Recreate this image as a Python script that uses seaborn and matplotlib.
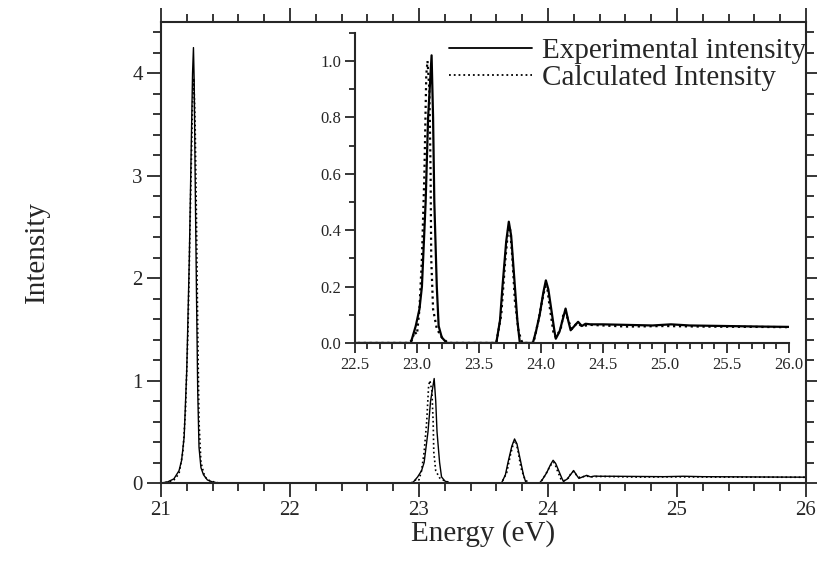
import numpy as np
import pandas as pd
import matplotlib
matplotlib.use("Agg")
import matplotlib.pyplot as plt
from matplotlib.ticker import MultipleLocator
import seaborn as sns

# experimental spectrum
exp_energy = [21.00, 21.05, 21.10, 21.14, 21.16, 21.18, 21.20, 21.22, 21.235, 21.245,
              21.252, 21.258, 21.265, 21.275, 21.285, 21.295, 21.31, 21.33, 21.36, 21.40,
              21.45, 22.00, 22.50, 22.95, 22.99, 23.02, 23.04, 23.07, 23.09, 23.118,
              23.13, 23.14, 23.16, 23.175, 23.20, 23.24, 23.64, 23.67, 23.69, 23.72,
              23.741, 23.76, 23.79, 23.81, 23.83, 23.935, 23.96, 23.99, 24.02, 24.04,
              24.06, 24.09, 24.11, 24.12, 24.15, 24.18, 24.199, 24.22, 24.24, 24.27,
              24.30, 24.33, 24.36, 24.40, 24.50, 24.70, 24.90, 25.05, 25.20, 25.50,
              25.80, 26.00]
exp_intensity = [0.0, 0.01, 0.04, 0.12, 0.22, 0.45, 1.1, 2.2, 3.3, 4.0,
                 4.25, 3.9, 3.0, 1.9, 0.9, 0.35, 0.15, 0.08, 0.03, 0.01,
                 0.0, 0.0, 0.0, 0.0, 0.06, 0.12, 0.2, 0.5, 0.8, 1.02,
                 0.8, 0.5, 0.2, 0.06, 0.02, 0.0, 0.0, 0.08, 0.2, 0.36,
                 0.43, 0.38, 0.2, 0.08, 0.0, 0.0, 0.04, 0.1, 0.18, 0.222,
                 0.19, 0.1, 0.04, 0.015, 0.04, 0.09, 0.122, 0.08, 0.045, 0.06,
                 0.075, 0.06, 0.068, 0.066, 0.066, 0.064, 0.062, 0.066, 0.062, 0.06,
                 0.058, 0.057]

# calculated spectrum
calc_energy = [21.00, 21.06, 21.10, 21.14, 21.17, 21.19, 21.21, 21.23, 21.245, 21.255,
               21.265, 21.275, 21.285, 21.295, 21.31, 21.34, 21.38, 21.45, 22.00, 22.50,
               22.93, 22.96, 22.98, 23.00, 23.02, 23.04, 23.06, 23.075, 23.085, 23.10,
               23.11, 23.115, 23.13, 23.16, 23.20, 23.25, 23.64, 23.68, 23.71, 23.735,
               23.75, 23.77, 23.79, 23.82, 23.85, 23.94, 23.98, 24.01, 24.035, 24.05,
               24.07, 24.10, 24.12, 24.16, 24.185, 24.20, 24.22, 24.25, 24.29, 24.33,
               24.40, 24.70, 25.00, 25.30, 25.70, 26.00]
calc_intensity = [0.0, 0.01, 0.03, 0.09, 0.3, 0.7, 1.5, 2.8, 3.7, 3.95,
                  3.5, 2.6, 1.5, 0.6, 0.2, 0.06, 0.02, 0.0, 0.0, 0.0,
                  0.0, 0.01, 0.04, 0.03, 0.12, 0.3, 0.6, 0.95, 1.0, 0.9,
                  0.6, 0.3, 0.12, 0.05, 0.02, 0.0, 0.0, 0.1, 0.28, 0.4,
                  0.41, 0.3, 0.15, 0.04, 0.0, 0.0, 0.08, 0.15, 0.2, 0.2,
                  0.13, 0.04, 0.02, 0.05, 0.11, 0.11, 0.08, 0.05, 0.07, 0.06,
                  0.064, 0.058, 0.06, 0.058, 0.057, 0.056]

exp_df = pd.DataFrame({"Energy": exp_energy, "Intensity": exp_intensity})
calc_df = pd.DataFrame({"Energy": calc_energy, "Intensity": calc_intensity})

sns.set_style("ticks")
plt.rcParams["font.family"] = ["Liberation Serif", "DejaVu Serif"]
plt.rcParams["xtick.direction"] = "out"
plt.rcParams["ytick.direction"] = "out"

fig = plt.figure(figsize=(8.17, 5.65), dpi=100)
ax = fig.add_axes([0.197, 0.1451, 0.7895, 0.816])

sns.lineplot(data=exp_df, x="Energy", y="Intensity", ax=ax, color="black",
             linewidth=1.0, estimator=None, label="Experimental intensity")
sns.lineplot(data=calc_df, x="Energy", y="Intensity", ax=ax, color="black",
             linewidth=1.2, linestyle=":", estimator=None, label="Calculated Intensity")

ax.set_xlim(21, 26)
ax.set_ylim(0, 4.5)
ax.xaxis.set_major_locator(MultipleLocator(1))
ax.xaxis.set_minor_locator(MultipleLocator(0.2))
ax.yaxis.set_major_locator(MultipleLocator(1))
ax.yaxis.set_minor_locator(MultipleLocator(0.2))
ax.tick_params(which="both", top=True, right=True, labeltop=False, labelright=False,
               width=1.3, labelsize=15, pad=3)
ax.tick_params(which="major", length=10)
ax.tick_params(which="minor", length=5.5)
for s in ax.spines.values():
    s.set_linewidth(1.5)
ax.set_xlabel("Energy (eV)", fontsize=21)
ax.set_ylabel("Intensity", fontsize=21)
ax.xaxis.set_label_coords(0.5, -0.08)
ax.yaxis.set_label_coords(-0.172, 0.5)

leg = ax.legend(loc="upper right", bbox_to_anchor=(806 / 817, 1 - 38 / 565),
                bbox_transform=fig.transFigure, frameon=False, fontsize=21,
                handlelength=2.85, handletextpad=0.34, labelspacing=0.0,
                borderpad=0, borderaxespad=0)
for h in leg.get_lines():
    h.set_linewidth(1.3)

# inset zoom of the region above 22.5 eV
ins = fig.add_axes([0.4345, 0.393, 0.531, 0.549])
ins.patch.set_alpha(0)
sns.lineplot(data=exp_df, x="Energy", y="Intensity", ax=ins, color="black",
             linewidth=1.6, estimator=None, legend=False)
sns.lineplot(data=calc_df, x="Energy", y="Intensity", ax=ins, color="black",
             linewidth=1.6, linestyle=":", estimator=None, legend=False)
ins.set_xlim(22.5, 26.0)
ins.set_ylim(0, 1.1)
ins.xaxis.set_major_locator(MultipleLocator(0.5))
ins.xaxis.set_minor_locator(MultipleLocator(0.1))
ins.yaxis.set_major_locator(MultipleLocator(0.2))
ins.yaxis.set_minor_locator(MultipleLocator(0.1))
ins.xaxis.set_major_formatter(plt.FormatStrFormatter("%.1f"))
ins.yaxis.set_major_formatter(plt.FormatStrFormatter("%.1f"))
ins.spines["top"].set_visible(False)
ins.spines["right"].set_visible(False)
for s in ["left", "bottom"]:
    ins.spines[s].set_linewidth(1.5)
ins.tick_params(which="both", width=1.3, labelsize=12, pad=3)
ins.tick_params(which="major", length=7)
ins.tick_params(which="minor", length=4)
ins.set_xlabel("")
ins.set_ylabel("")

fig.savefig("out.png", dpi=100)
